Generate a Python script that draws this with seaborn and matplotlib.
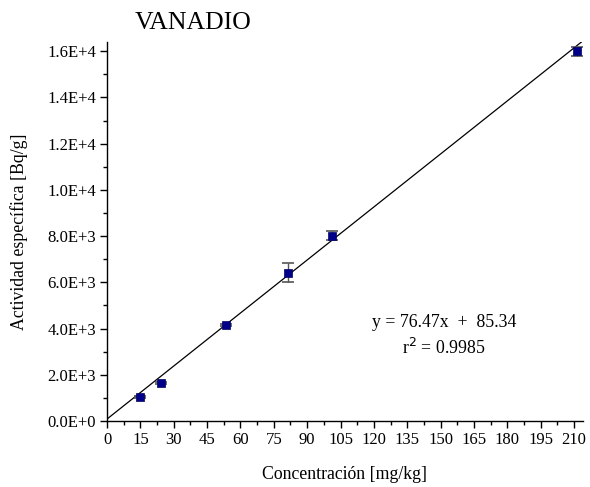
import matplotlib
matplotlib.use("Agg")
import matplotlib.pyplot as plt
import seaborn as sns
import numpy as np
import pandas as pd
from matplotlib.ticker import MultipleLocator, FuncFormatter

conc = [14.8, 24.3, 53.5, 81.4, 101.2, 211.3]
activity = [1040, 1650, 4160, 6420, 8020, 16000]
errors = [40, 40, 40, 400, 200, 200]
slope = 76.47
intercept = 85.34
r2 = 0.9985
fit_range = [0, 214]

sns.set_theme(style="white")
plt.rcParams['font.family'] = ['Liberation Serif', 'DejaVu Serif']

fig = plt.figure(figsize=(5.9, 4.87), dpi=100)
ax = fig.add_axes([0.1814, 0.1355, 0.8066, 0.7783])

fx = np.array(fit_range, dtype=float)
fit = pd.DataFrame({"x": fx, "y": slope * fx + intercept})
sns.lineplot(data=fit, x="x", y="y", ax=ax, color="black", lw=0.9, zorder=2)

ax.errorbar(conc, activity, yerr=errors, fmt="none", ecolor="#555555",
            elinewidth=1.0, capsize=4, capthick=1.2, zorder=3)
df = pd.DataFrame({"c": conc, "a": activity})
sns.scatterplot(data=df, x="c", y="a", ax=ax, marker="s", s=27,
                color="#00008B", edgecolor="#000060", linewidth=0.5, zorder=4)

ax.set_xlim(0, 214)
ax.set_ylim(0, 16400)
ax.xaxis.set_major_locator(MultipleLocator(15))
ax.xaxis.set_minor_locator(MultipleLocator(7.5))
ax.yaxis.set_major_locator(MultipleLocator(2000))
ax.yaxis.set_minor_locator(MultipleLocator(1000))

def sci(v, pos):
    if v == 0:
        return "0.0E+0"
    e = int(np.floor(np.log10(abs(v))))
    m = v / 10**e
    return f"{m:.1f}E+{e}"
ax.yaxis.set_major_formatter(FuncFormatter(sci))

for s in ["top", "right"]:
    ax.spines[s].set_visible(False)
for s in ["left", "bottom"]:
    ax.spines[s].set_color("black")
    ax.spines[s].set_linewidth(1.0)

ax.tick_params(which="major", direction="out", length=5, width=1, color="black",
               labelsize=12, labelcolor="black", bottom=True, left=True, pad=3)
ax.tick_params(which="minor", direction="out", length=3, width=1, color="black",
               bottom=True, left=True)

ax.set_xlabel("Concentración [mg/kg]", fontsize=12.8, color="black", labelpad=13)
ax.set_ylabel("Actividad específica [Bq/g]", fontsize=12.8, color="black", labelpad=14)
ax.grid(False)

fig.text(0.327, 0.952, "VANADIO", fontsize=18.5, ha="center", va="center", color="black")
ax.text(151.5, 4250, f"y = {slope}x  +  {intercept}", fontsize=12.8, ha="center", va="center", color="black")
ax.text(151.5, 3165, f"r$^2$ = {r2}", fontsize=12.8, ha="center", va="center", color="black")

fig.savefig("out.png", dpi=100)
